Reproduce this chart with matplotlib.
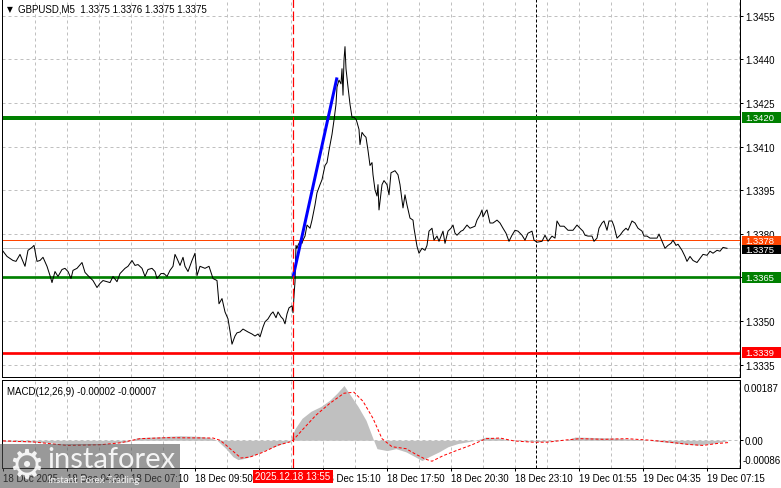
import matplotlib
matplotlib.use('Agg')
import matplotlib.pyplot as plt
import matplotlib.transforms as mtransforms
from matplotlib.patches import Rectangle

W, H = 781, 489

# GBPUSD M5, close cene (indeks bara -> cena)
price_bar = [0, 2, 5, 6.5, 8.5, 11, 12.5, 14.5, 15.5, 17, 18.5, 20, 22, 23.5, 24.5, 26, 27.5, 29.5, 31,
             32.5, 34, 35, 37, 39.5, 41, 42.5, 45, 47, 48.5, 50, 52, 53.5, 55, 57, 58.5, 61, 62.5, 64.5,
             66, 67.5, 69.5, 71, 72.5, 74.5, 76, 77, 79, 80.5, 82, 83.5, 85, 86, 87, 88.5, 90, 91, 92.5,
             94.5, 96, 97, 98.5, 101, 103, 105, 107, 108, 109.5, 111, 112.5, 113.5, 114.5, 116, 117,
             118.5, 120, 122.5, 124.5, 126, 127.5, 128.5, 130, 131, 132.5, 134, 135, 136.5, 137.5, 139,
             140, 141, 142, 143, 144.5, 145, 145.5, 146, 146.5, 147, 147.5, 148.5, 149.5, 150, 151, 152,
             153.5, 154.5, 156, 157, 158.5, 159.5, 161, 162, 163, 164.5, 165.5, 166.5, 167, 168, 169,
             169.5, 170, 170.5, 171, 171.5, 172.5, 173.5, 174.5, 175.5, 176.5, 177, 178, 178.5, 179.5,
             180.5, 181.5, 182.5, 183.5, 184.5, 185, 186, 187, 187.5, 188, 189.5, 190.5, 192, 193, 194,
             196, 197.5, 198.5, 200, 201, 202, 203.5, 205, 205.5, 207, 208, 209.5, 211, 212, 213, 214.5,
             215.5, 217, 218, 220, 221, 222.5, 224, 225, 226, 227, 229, 230, 232, 233.5, 236, 237, 238.5,
             239.5, 240, 241.5, 242, 243.5, 245, 247, 248.5, 250, 251.5, 253, 254.5, 256, 257.5, 259.5,
             261, 262.5, 264.5, 265.5, 267, 269.5, 271, 272.5, 274.5, 276, 277, 278.5, 280.5, 282.5, 285,
             287, 288.5, 290, 291, 292.5, 294.5, 295.5, 297, 298, 299.5, 300.5, 302, 303, 304.5, 305.5,
             307, 308.5, 310, 311.5, 312.5, 314.5, 316, 317.5, 319.5, 320.5, 322, 323.5, 325, 327, 328,
             329.5, 331, 332.5, 334, 335, 336.5, 337.5, 339.5, 341, 342, 343.5, 345, 347, 348.5, 350,
             352, 353.5, 355, 357, 358.5, 360, 362]
price_close = [1.33740, 1.33722, 1.33708, 1.33705, 1.33729, 1.33688, 1.33743, 1.33753, 1.33760, 1.33705,
               1.33708, 1.33719, 1.33688, 1.33656, 1.33632, 1.33670, 1.33653, 1.33677, 1.33681, 1.33670,
               1.33646, 1.33674, 1.33681, 1.33701, 1.33667, 1.33656, 1.33639, 1.33615, 1.33629, 1.33639,
               1.33635, 1.33632, 1.33653, 1.33635, 1.33663, 1.33681, 1.33688, 1.33708, 1.33691, 1.33694,
               1.33681, 1.33653, 1.33677, 1.33681, 1.33670, 1.33646, 1.33663, 1.33663, 1.33653, 1.33674,
               1.33688, 1.33729, 1.33715, 1.33691, 1.33719, 1.33688, 1.33670, 1.33708, 1.33733, 1.33656,
               1.33688, 1.33681, 1.33688, 1.33646, 1.33639, 1.33559, 1.33577, 1.33531, 1.33507, 1.33465,
               1.33420, 1.33448, 1.33459, 1.33462, 1.33472, 1.33462, 1.33455, 1.33448, 1.33455, 1.33445,
               1.33479, 1.33497, 1.33507, 1.33524, 1.33531, 1.33511, 1.33531, 1.33514, 1.33507, 1.33490,
               1.33524, 1.33545, 1.33552, 1.33528, 1.33587, 1.33635, 1.33760, 1.33750, 1.33760, 1.33774,
               1.33767, 1.33778, 1.33792, 1.33830, 1.33819, 1.33847, 1.33899, 1.33941, 1.33969, 1.33986,
               1.34035, 1.34045, 1.34087, 1.34142, 1.34191, 1.34246, 1.34305, 1.34329, 1.34316, 1.34368,
               1.34277, 1.34399, 1.34444, 1.34368, 1.34305, 1.34246, 1.34201, 1.34201, 1.34194, 1.34184,
               1.34159, 1.34107, 1.34149, 1.34139, 1.34132, 1.34087, 1.34035, 1.34045, 1.34003, 1.33951,
               1.33930, 1.33969, 1.33882, 1.33969, 1.33983, 1.33969, 1.33934, 1.34010, 1.34017, 1.34003,
               1.33969, 1.33889, 1.33934, 1.33899, 1.33854, 1.33847, 1.33819, 1.33757, 1.33733, 1.33750,
               1.33743, 1.33760, 1.33809, 1.33819, 1.33778, 1.33792, 1.33774, 1.33809, 1.33767, 1.33809,
               1.33819, 1.33830, 1.33802, 1.33795, 1.33809, 1.33812, 1.33830, 1.33819, 1.33826, 1.33847,
               1.33865, 1.33882, 1.33858, 1.33878, 1.33882, 1.33837, 1.33837, 1.33847, 1.33837, 1.33819,
               1.33802, 1.33774, 1.33795, 1.33812, 1.33809, 1.33795, 1.33778, 1.33802, 1.33809, 1.33778,
               1.33771, 1.33774, 1.33795, 1.33774, 1.33792, 1.33785, 1.33844, 1.33826, 1.33826, 1.33812,
               1.33812, 1.33830, 1.33819, 1.33809, 1.33795, 1.33792, 1.33792, 1.33774, 1.33785, 1.33819,
               1.33837, 1.33844, 1.33812, 1.33844, 1.33844, 1.33826, 1.33785, 1.33795, 1.33809, 1.33819,
               1.33812, 1.33844, 1.33837, 1.33819, 1.33809, 1.33792, 1.33792, 1.33785, 1.33785, 1.33785,
               1.33799, 1.33774, 1.33750, 1.33760, 1.33767, 1.33778, 1.33760, 1.33764, 1.33743, 1.33722,
               1.33705, 1.33722, 1.33708, 1.33701, 1.33715, 1.33729, 1.33726, 1.33740, 1.33733, 1.33743,
               1.33740, 1.33753, 1.33750]

# MACD(12,26,9): glavna linija (histogram) i signal
macd_bar = [0, 13.5, 23.5, 33.5, 48.5, 62, 67, 78.5, 88.5, 98.5, 103.5, 107, 111.5, 115, 117.5, 121, 126,
            130.5, 135.5, 140, 143.5, 146, 149.5, 154, 159, 163.5, 167, 170.5, 174, 177.5, 181.5, 185,
            187, 192, 196.5, 201.5, 206, 209.5, 213, 218, 222.5, 227.5, 232, 236.5, 241.5, 248.5, 253,
            267.5, 281.5, 286, 305, 319, 328.5, 338, 347.5, 354.5, 362]
macd_main = [-0.00003, -0.00005, -0.00008, -0.00012, -0.00012, -0.00005, 0.00008, 0.00011, 0.00014,
             0.00012, 0.00008, 0.0, -0.00026, -0.00051, -0.00060, -0.00056, -0.00045, -0.00032, -0.00020,
             -0.00010, -0.00002, 0.00036, 0.00068, 0.00090, 0.00105, 0.00125, 0.00146, 0.00170, 0.00137,
             0.00105, 0.00062, 0.00005, -0.00026, -0.00032, -0.00026, -0.00036, -0.00051, -0.00063,
             -0.00051, -0.00036, -0.00020, -0.00010, -0.00005, 0.0, 0.00010, 0.00007, 0.0, -0.00004, 0.0,
             0.00010, 0.00007, 0.00002, -0.00004, -0.00010, -0.00015, -0.00010, -0.00002]
signal_bar = [0, 15, 32, 48.5, 58.5, 68.5, 82, 105, 108.5, 111.5, 116.5, 119, 123.5, 130.5, 137.5, 143.5,
              145, 149.5, 156.5, 163.5, 170.5, 175.5, 180, 185, 189.5, 194.5, 201.5, 206, 211, 214.5, 220,
              227.5, 234.5, 241.5, 248.5, 255.5, 265, 272, 281.5, 288.5, 300.5, 312, 324, 333.5, 343, 350,
              357, 363]
signal_val = [-0.00002, -0.00005, -0.00016, -0.00014, -0.00008, 0.00005, 0.00008, 0.00007, 0.0, -0.00015,
              -0.00042, -0.00055, -0.00052, -0.00036, -0.00015, -0.00005, 0.0, 0.00031, 0.00078, 0.00115,
              0.00146, 0.00149, 0.00121, 0.00068, 0.00005, -0.00020, -0.00026, -0.00042, -0.00058,
              -0.00065, -0.00048, -0.00030, -0.00014, 0.00005, 0.00007, -0.00002, -0.00006, -0.00006,
              0.00001, 0.00005, 0.00003, 0.00005, 0.0, -0.00006, -0.00013, -0.00016, -0.00010, -0.00007]

price_ticks = [1.3335, 1.3350, 1.3365, 1.3380, 1.3395, 1.3410, 1.3425, 1.3440, 1.3455]
# oznaka za 12:30 je skrivena ispod crvenog okvira markera
time_ticks = [0, 32, 64, 96, 128, 160, 192, 224, 256, 288, 320, 352]
time_labels = ['18 Dec 2025', '18 Dec 04:30', '18 Dec 07:10', '18 Dec 09:50', '',
               '18 Dec 15:10', '18 Dec 17:50', '18 Dec 20:30', '18 Dec 23:10', '19 Dec 01:55',
               '19 Dec 04:35', '19 Dec 07:15']

# nivoi: cena, boja linije, debljina u px, boja oznake na skali
level_prices = [1.3420, 1.3365, 1.3339, 1.3378, 1.3375]
level_colors = ['#008000', '#008000', '#ff0000', '#ff4500', '#c0c0c0']
level_widths = [4, 2.7, 2.7, 1, 1]
box_colors = ['#008000', '#008000', '#ff0000', '#ff4500', '#000000']
box_shift_px = [0, 0, 0, 0.7, 1.5]  # MT4 razmice oznake koje se preklapaju

trend_bar = [145, 167]
trend_price = [1.3365, 1.34338]
marker_bar = 145
marker_label = '2025.12.18 13:55'
day_sep_bar = 266.5

PX = 0.72  # 1 piksel u pointima (dpi=100)
GRID = '#c0c0c0'
FS = 7

plt.rcParams['font.family'] = ['Liberation Sans', 'DejaVu Sans']


def px_axes(fig, left, top, right, bottom):
    return fig.add_axes([left / W, 1 - bottom / H, (right - left) / W, (bottom - top) / H])


def style_panel(ax):
    ax.set_facecolor('white')
    for s in ['left', 'right', 'bottom', 'top']:
        ax.spines[s].set_linewidth(PX)
        ax.spines[s].set_color('black')
    ax.set_xlim(-0.5, 368.5)
    for b in range(16, 369, 16):
        ax.axvline(b, color=GRID, lw=PX, ls=(0, (3, 3)), zorder=0)
    ax.axvline(marker_bar, color='red', lw=1.2 * PX, ls=(0, (8, 3)), zorder=6)
    ax.axvline(day_sep_bar, color='black', lw=PX, ls=(0, (3, 2)), zorder=1)


fig = plt.figure(figsize=(W / 100, H / 100), dpi=100, facecolor='white')

# glavni prozor
ax = px_axes(fig, 2, 0, 740, 378)
style_panel(ax)
ax.spines['top'].set_visible(False)
ax.set_ylim(1.33307, 1.34608)
for p in price_ticks:
    ax.axhline(p, color=GRID, lw=PX, ls=(0, (3, 3)), zorder=0)

for p, c, w in zip(level_prices, level_colors, level_widths):
    ax.axhline(p, color=c, lw=w * PX, zorder=2)

ax.plot(price_bar, price_close, color='black', lw=PX, zorder=4)
ax.plot(trend_bar, trend_price, color='#0000ff', lw=3 * PX, zorder=5, solid_capstyle='butt')

ax.set_yticks(price_ticks)
ax.set_yticklabels([f'{p:.4f}' for p in price_ticks])
ax.yaxis.tick_right()
ax.tick_params(axis='y', length=3 * PX, width=PX, pad=1.5, labelsize=FS, colors='black')
ax.tick_params(axis='x', bottom=False, labelbottom=False)

# oznake nivoa na cenovnoj skali
per_px = (ax.get_ylim()[1] - ax.get_ylim()[0]) / 378
trans = mtransforms.blended_transform_factory(ax.transAxes, ax.transData)
box_w = 39 / 738
for i, (p, bc, sh) in enumerate(zip(level_prices, box_colors, box_shift_px)):
    hh = (5.5 if i < 3 else 4.6) * per_px
    yc = p - sh * per_px
    ax.add_patch(Rectangle((1 + 2 / 738, yc - hh), box_w, 2 * hh, transform=trans, facecolor=bc,
                           edgecolor='none', clip_on=False, zorder=10))
    ax.text(1 + 5 / 738, yc, f'{p:.4f}', transform=trans, color='white', fontsize=6.8,
            va='center', ha='left', clip_on=False, zorder=11)

# MACD prozor
ax2 = px_axes(fig, 2, 381, 740, 469)
style_panel(ax2)
ax2.set_ylim(-0.00086, 0.00187)
ax2.axhline(0, color=GRID, lw=PX, ls=(0, (3, 3)), zorder=0)
ax2.fill_between(macd_bar, macd_main, 0, color='#c0c0c0', lw=0, zorder=2)
ax2.plot(signal_bar, signal_val, color='red', lw=PX, ls=(0, (3, 2)), zorder=4)

ax2.set_yticks([0])
ax2.set_yticklabels(['0.00'])
ax2.yaxis.tick_right()
ax2.tick_params(axis='y', length=3 * PX, width=PX, pad=1.5, labelsize=FS)
t2 = mtransforms.blended_transform_factory(ax2.transAxes, ax2.transData)
ax2.text(1 + 4 / 738, 0.00187, '0.00187', fontsize=FS, va='center', ha='left', clip_on=False,
         transform=mtransforms.offset_copy(t2, fig=fig, y=-8, units='dots'))
ax2.text(1 + 3 / 738, -0.00086, '-0.00086', fontsize=FS, va='center', ha='left', clip_on=False,
         transform=mtransforms.offset_copy(t2, fig=fig, y=8, units='dots'))

ax2.set_xticks(time_ticks)
ax2.set_xticklabels(time_labels, ha='left')
ax2.tick_params(axis='x', length=3 * PX, width=PX, pad=1.2, labelsize=FS)

# crveni okvir za vreme markera
tb = mtransforms.blended_transform_factory(ax2.transData, ax2.transAxes)
ax2.add_patch(Rectangle((marker_bar - 20, -15 / 88), 40, 13.5 / 88, transform=tb, facecolor='#ff0000',
                        edgecolor='none', clip_on=False, zorder=10))
ax2.text(marker_bar, -8.5 / 88, marker_label, transform=tb, color='white', fontsize=FS,
         ha='center', va='center', clip_on=False, zorder=11)

# naslovi
fig.text(7 / W, 1 - 10 / H, '\u25bc', fontsize=5.5, family='DejaVu Sans', va='center', ha='left')
fig.text(18 / W, 1 - 10 / H, 'GBPUSD,M5  1.3375 1.3376 1.3375 1.3375', fontsize=FS, va='center', ha='left')
fig.text(7 / W, 1 - 392 / H, 'MACD(12,26,9) -0.00002 -0.00007', fontsize=FS, va='center', ha='left')

# vodeni žig
fig.add_artist(Rectangle((0, 0), 180 / W, 44 / H, transform=fig.transFigure, facecolor='#505050',
                         edgecolor='none', alpha=0.58, zorder=20))
fig.text(26 / W, 1 - 467 / H, '\u2699', fontsize=29, family='DejaVu Sans', color='white', alpha=0.9,
         ha='center', va='center', zorder=21)
fig.text(47 / W, 1 - 460 / H, 'instaforex', fontsize=21, family='Lato', color='white', alpha=0.9,
         ha='left', va='center', zorder=21)
fig.text(48 / W, 1 - 481 / H, 'Instant Forex Trading', fontsize=7, family='Lato', color='white',
         alpha=0.9, ha='left', va='center', zorder=21)

fig.savefig('out.png', dpi=100, facecolor='white')
